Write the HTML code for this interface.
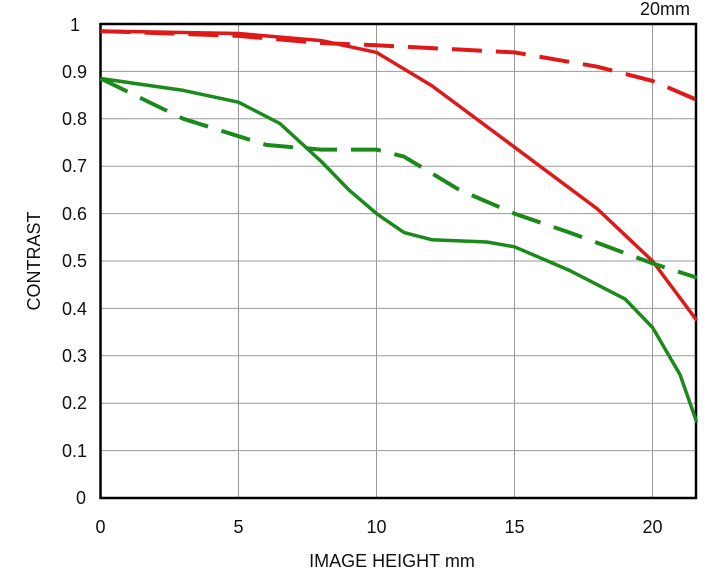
<!DOCTYPE html>
<html><head><style>body{margin:0;background:#fff}svg{display:block}text{font-family:"Liberation Sans",sans-serif;fill:#111}</style></head><body>
<svg width="720" height="570" viewBox="0 0 720 570">
<g stroke="#999" stroke-width="1">
<line x1="100" y1="450.6" x2="696" y2="450.6"/><line x1="100" y1="403.2" x2="696" y2="403.2"/><line x1="100" y1="355.8" x2="696" y2="355.8"/><line x1="100" y1="308.4" x2="696" y2="308.4"/><line x1="100" y1="261" x2="696" y2="261"/><line x1="100" y1="213.6" x2="696" y2="213.6"/><line x1="100" y1="166.2" x2="696" y2="166.2"/><line x1="100" y1="118.8" x2="696" y2="118.8"/><line x1="100" y1="71.4" x2="696" y2="71.4"/>
<line x1="238.5" y1="24" x2="238.5" y2="498"/><line x1="376.5" y1="24" x2="376.5" y2="498"/><line x1="514.5" y1="24" x2="514.5" y2="498"/><line x1="652.5" y1="24" x2="652.5" y2="498"/>
</g>
<rect x="100.5" y="24" width="595.5" height="474" fill="none" stroke="#000" stroke-width="2.5"/>
<g fill="none" stroke-linejoin="round" stroke-width="3.5">
<polyline stroke="#e01818" points="100.5,31.1 238.5,33.5 321.3,40.6 376.5,52.4 431.7,85.6 514.5,147.2 597.3,208.9 652.5,261 696.7,320.3"/>
<polyline stroke="#e01818" stroke-dasharray="30,14" stroke-width="4" points="100.5,31.1 238.5,35.9 321.3,43 376.5,45.3 514.5,52.4 597.3,66.7 652.5,80.9 696.7,99.8"/>
<polyline stroke="#1a8a1a" points="100.5,78.5 183.3,90.4 238.5,102.2 279.9,123.5 321.3,161.5 348.9,189.9 376.5,213.6 404.1,232.6 431.7,239.7 486.9,242 514.5,246.8 569.7,270.5 624.9,298.9 652.5,327.4 680.1,374.8 696.7,422.2"/>
<polyline stroke="#1a8a1a" stroke-dasharray="30,14" stroke-width="4" points="100.5,78.5 183.3,118.8 266.1,144.9 321.3,149.6 376.5,149.6 404.1,156.7 459.3,189.9 514.5,213.6 569.7,232.6 652.5,263.4 696.7,277.6"/>
</g>
<g font-size="18" text-anchor="end">
<text x="86" y="504">0</text><text x="87" y="457">0.1</text><text x="87" y="409">0.2</text><text x="87" y="362">0.3</text><text x="87" y="315">0.4</text><text x="87" y="267">0.5</text><text x="87" y="220">0.6</text><text x="87" y="172">0.7</text><text x="87" y="125">0.8</text><text x="87" y="78">0.9</text><text x="80" y="31">1</text>
</g>
<g font-size="18" text-anchor="middle">
<text x="100.5" y="533">0</text><text x="238.5" y="533">5</text><text x="376.5" y="533">10</text><text x="514.5" y="533">15</text><text x="652.5" y="533">20</text>
<text x="392" y="567">IMAGE HEIGHT   mm</text>
<text x="665" y="15">20mm</text>
<text transform="translate(40,261) rotate(-90)">CONTRAST</text>
</g>
</svg>
</body></html>
